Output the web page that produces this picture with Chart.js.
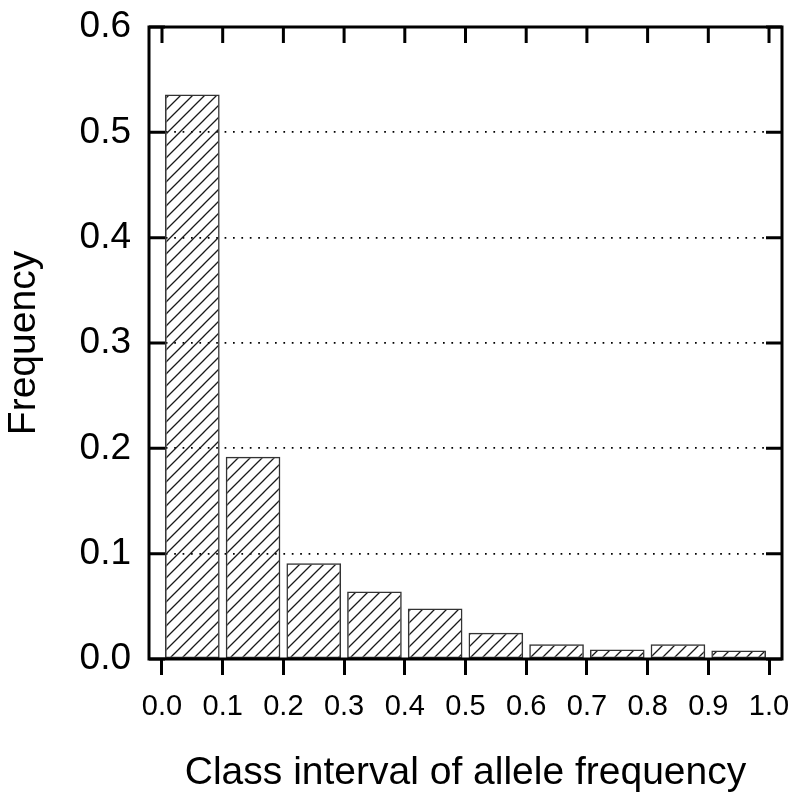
<!DOCTYPE html>
<html>
<head>
<meta charset="utf-8">
<script src="https://cdn.jsdelivr.net/npm/chart.js@4/dist/chart.umd.min.js"></script>
<style>
  html, body { margin: 0; padding: 0; background: #fff; }
  #wrap { width: 800px; height: 805px; }
</style>
</head>
<body>
<div id="wrap"><canvas id="c" width="800" height="805"></canvas></div>
<script>
// ---- data ----
const binCenters = [0.05, 0.15, 0.25, 0.35, 0.45, 0.55, 0.65, 0.75, 0.85, 0.95];
const frequencies = [0.536, 0.192, 0.091, 0.064, 0.048, 0.025, 0.014, 0.009, 0.014, 0.008];
const xTickValues = [0.0, 0.1, 0.2, 0.3, 0.4, 0.5, 0.6, 0.7, 0.8, 0.9, 1.0];
const yTickValues = [0.0, 0.1, 0.2, 0.3, 0.4, 0.5, 0.6];
const xTitle = 'Class interval of allele frequency';
const yTitle = 'Frequency';

const FONT = '"Liberation Sans", Arial, Helvetica, sans-serif';

// hatch pattern (diagonal "/" lines, transparent background)
function makeHatch() {
  const s = 12;
  const pc = document.createElement('canvas');
  pc.width = s; pc.height = s;
  const g = pc.getContext('2d');
  g.strokeStyle = '#1a1a1a';
  g.lineWidth = 1.3;
  g.beginPath();
  g.moveTo(0, s); g.lineTo(s, 0);
  g.moveTo(-s / 2, s / 2); g.lineTo(s / 2, -s / 2);
  g.moveTo(s / 2, s * 1.5); g.lineTo(s * 1.5, s / 2);
  g.stroke();
  return g.createPattern(pc, 'repeat');
}

const TICK = 16;
const boxAndTicks = {
  id: 'boxAndTicks',
  afterDraw(chart) {
    const ctx = chart.ctx;
    const a = chart.chartArea;
    const xs = chart.scales.x, ys = chart.scales.y;
    ctx.save();
    ctx.strokeStyle = '#000';
    ctx.lineWidth = 3;
    ctx.lineCap = 'butt';
    ctx.beginPath();
    yTickValues.forEach(v => {
      const py = ys.getPixelForValue(v);
      ctx.moveTo(a.left, py); ctx.lineTo(a.left + TICK, py);
      ctx.moveTo(a.right - TICK, py); ctx.lineTo(a.right, py);
    });
    xTickValues.forEach(v => {
      const px = xs.getPixelForValue(v);
      ctx.moveTo(px, a.top); ctx.lineTo(px, a.top + TICK);
    });
    ctx.stroke();
    ctx.strokeRect(a.left, a.top, a.right - a.left, a.bottom - a.top);
    ctx.restore();
  }
};

const ctx = document.getElementById('c').getContext('2d');
new Chart(ctx, {
  type: 'bar',
  data: {
    datasets: [{
      data: binCenters.map((x, i) => ({ x: x, y: frequencies[i] })),
      backgroundColor: makeHatch(),
      borderColor: '#333',
      borderWidth: 1.5,
      borderSkipped: false,
      barPercentage: 0.9,
      categoryPercentage: 1.0
    }]
  },
  options: {
    responsive: false,
    animation: false,
    events: [],
    layout: { padding: { top: 27, right: 18, left: 0, bottom: 0 } },
    plugins: { legend: { display: false }, tooltip: { enabled: false } },
    scales: {
      x: {
        type: 'linear',
        offset: false,
        min: -0.0214,
        max: 1.0214,
        afterFit(s) { s.height = 146; s.paddingLeft = 0; s.paddingRight = 0; },
        afterBuildTicks(s) { s.ticks = xTickValues.map(v => ({ value: v })); },
        ticks: {
          includeBounds: false,
          autoSkip: false,
          maxRotation: 0,
          minRotation: 0,
          padding: 15,
          color: '#000',
          font: { family: FONT, size: 29 },
          callback: v => Number(v).toFixed(1)
        },
        grid: {
          offset: false,
          drawOnChartArea: false,
          drawTicks: true,
          tickLength: 16,
          tickWidth: 3,
          tickColor: '#000'
        },
        border: { display: false },
        title: {
          display: true,
          text: xTitle,
          color: '#000',
          font: { family: FONT, size: 39 },
          padding: { top: 0, bottom: 8 }
        }
      },
      y: {
        min: 0,
        max: 0.6,
        afterFit(s) { s.width = 149; s.paddingTop = 0; s.paddingBottom = 0; },
        afterBuildTicks(s) { s.ticks = yTickValues.map(v => ({ value: v })); },
        ticks: {
          padding: 18,
          color: '#000',
          font: { family: FONT, size: 37 },
          callback: v => Number(v).toFixed(1)
        },
        grid: {
          drawTicks: false,
          color: '#000',
          lineWidth: 1.7
        },
        border: { display: false, dash: [1.7, 6.7] },
        title: {
          display: true,
          text: yTitle,
          color: '#000',
          font: { family: FONT, size: 39 },
          padding: { top: 1, bottom: 0 }
        }
      }
    }
  },
  plugins: [boxAndTicks]
});
</script>
</body>
</html>
